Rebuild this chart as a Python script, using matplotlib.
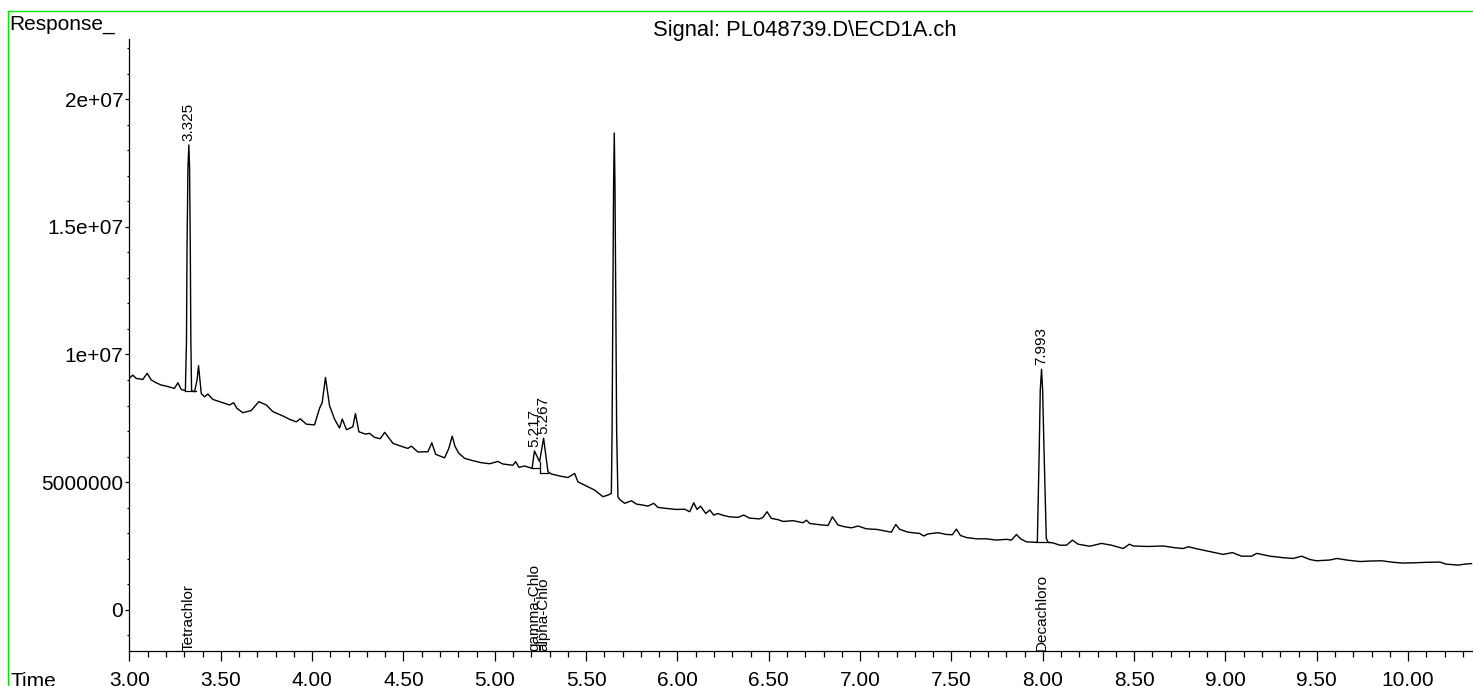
import numpy as np
import matplotlib
matplotlib.use("Agg")
import matplotlib.pyplot as plt
from matplotlib.lines import Line2D

plt.rcParams['font.family'] = ['Liberation Sans', 'DejaVu Sans']

# chromatogram trace: time (min), response (millions)
time_min = [
    3.000, 3.018, 3.037, 3.073, 3.097, 3.119, 3.146, 3.174, 3.201, 3.246,
    3.265, 3.283, 3.305,
    3.306, 3.312, 3.315, 3.320, 3.325, 3.329, 3.333, 3.336, 3.340,
    3.356, 3.370, 3.378, 3.386, 3.393, 3.411, 3.429, 3.456, 3.493, 3.548,
    3.570, 3.588, 3.620, 3.666, 3.708, 3.749, 3.785, 3.840, 3.876, 3.913,
    3.935, 3.968, 4.013, 4.041, 4.055, 4.073, 4.095, 4.123, 4.150, 4.165,
    4.188, 4.223, 4.237, 4.256, 4.292, 4.314, 4.342, 4.373, 4.397, 4.442,
    4.497, 4.524, 4.543, 4.579, 4.634, 4.655, 4.676, 4.725, 4.747, 4.767,
    4.782, 4.803, 4.835, 4.880, 4.926, 4.972, 5.017, 5.044, 5.099, 5.114,
    5.132, 5.163, 5.204, 5.217, 5.245, 5.267, 5.291, 5.309, 5.355, 5.400,
    5.437, 5.455, 5.501, 5.546, 5.592, 5.619, 5.638,
    5.642, 5.646, 5.650, 5.654, 5.658, 5.662, 5.667, 5.674,
    5.683, 5.711, 5.748, 5.775, 5.811, 5.838, 5.870, 5.893, 5.939, 5.994,
    6.039, 6.067, 6.089, 6.107, 6.126, 6.155, 6.177, 6.198, 6.222, 6.249,
    6.286, 6.331, 6.363, 6.395, 6.450, 6.468, 6.490, 6.514, 6.550, 6.578,
    6.633, 6.687, 6.706, 6.724, 6.769, 6.824, 6.848, 6.879, 6.916, 6.952,
    6.989, 7.034, 7.089, 7.135, 7.171, 7.195, 7.217, 7.262, 7.326, 7.348,
    7.372, 7.426, 7.472, 7.505, 7.527, 7.549, 7.582, 7.637, 7.692, 7.746,
    7.801, 7.828, 7.856, 7.878, 7.911, 7.956, 7.965,
    7.970, 7.980, 7.986, 7.993, 7.999, 8.007, 8.019, 8.029,
    8.056, 8.093, 8.130, 8.162, 8.193, 8.257, 8.321, 8.376, 8.440, 8.474,
    8.495, 8.575, 8.659, 8.723, 8.768, 8.796, 8.849, 8.915, 8.987, 9.038,
    9.088, 9.143, 9.171, 9.244, 9.316, 9.371, 9.417, 9.462, 9.499, 9.572,
    9.609, 9.663, 9.736, 9.791, 9.855, 9.918, 9.973, 10.028, 10.101, 10.174,
    10.207, 10.272, 10.313, 10.347,
]
response_M = [
    9.07, 9.19, 9.06, 9.02, 9.26, 9.00, 8.89, 8.80, 8.76, 8.67,
    8.89, 8.63, 8.58,
    8.60, 10.5, 14.1, 17.3, 18.2, 17.3, 14.1, 10.5, 8.58,
    8.54, 9.00, 9.56, 9.00, 8.47, 8.34, 8.45, 8.24, 8.15, 8.02,
    8.11, 7.89, 7.72, 7.80, 8.15, 8.02, 7.76, 7.59, 7.46, 7.36,
    7.48, 7.27, 7.24, 7.90, 8.11, 9.10, 8.00, 7.46, 7.12, 7.47,
    7.05, 7.17, 7.68, 6.97, 6.88, 6.91, 6.75, 6.70, 6.95, 6.52,
    6.38, 6.32, 6.41, 6.18, 6.19, 6.54, 6.09, 5.95, 6.30, 6.80,
    6.40, 6.13, 5.93, 5.84, 5.76, 5.72, 5.81, 5.71, 5.66, 5.80,
    5.58, 5.63, 5.54, 6.22, 5.80, 6.72, 5.41, 5.32, 5.24, 5.18,
    5.34, 5.01, 4.85, 4.69, 4.43, 4.49, 4.56,
    7.00, 12.0, 16.5, 18.67, 16.5, 12.0, 7.00, 4.43,
    4.32, 4.17, 4.27, 4.14, 4.10, 4.06, 4.17, 4.01, 3.97, 3.93,
    3.94, 3.84, 4.19, 3.93, 4.06, 3.77, 3.91, 3.71, 3.77, 3.70,
    3.64, 3.62, 3.71, 3.59, 3.56, 3.62, 3.84, 3.58, 3.53, 3.46,
    3.49, 3.41, 3.51, 3.38, 3.34, 3.30, 3.64, 3.32, 3.25, 3.21,
    3.28, 3.17, 3.15, 3.09, 3.04, 3.34, 3.15, 3.04, 2.99, 2.89,
    2.97, 3.02, 2.95, 2.94, 3.16, 2.91, 2.83, 2.78, 2.78, 2.73,
    2.76, 2.73, 2.95, 2.78, 2.66, 2.64, 2.64,
    2.66, 6.13, 8.60, 9.42, 8.60, 6.13, 2.80, 2.64,
    2.62, 2.53, 2.53, 2.73, 2.57, 2.49, 2.60, 2.53, 2.40, 2.57,
    2.50, 2.48, 2.50, 2.43, 2.40, 2.47, 2.38, 2.28, 2.17, 2.24,
    2.10, 2.10, 2.21, 2.10, 2.04, 2.01, 2.10, 1.97, 1.92, 1.95,
    2.01, 1.95, 1.89, 1.91, 1.92, 1.86, 1.83, 1.84, 1.86, 1.87,
    1.79, 1.75, 1.79, 1.81,
]

# integrated peaks: retention time, apex (millions), baseline start/end, baseline level
peak_rt = [3.325, 5.217, 5.267, 7.993]
peak_top_M = [18.2, 6.22, 6.72, 9.42]
base_start = [3.305, 5.206, 5.245, 7.962]
base_end = [3.365, 5.245, 5.291, 8.035]
base_level_M = [8.58, 5.54, 5.37, 2.65]
drop_rt = [5.245]
drop_top_M = [5.80]
drop_bottom_M = [5.37]

compound_names = ['Tetrachlor', 'gamma-Chlo', 'alpha-Chlo', 'Decachloro']
compound_rt = [3.325, 5.217, 5.267, 7.993]

xtick_values = [3.0, 3.5, 4.0, 4.5, 5.0, 5.5, 6.0, 6.5, 7.0, 7.5, 8.0, 8.5, 9.0, 9.5, 10.0]
xtick_labels = ['3.00', '3.50', '4.00', '4.50', '5.00', '5.50', '6.00', '6.50',
                '7.00', '7.50', '8.00', '8.50', '9.00', '9.50', '10.00']
ytick_values = [0, 5e6, 1e7, 1.5e7, 2e7]
ytick_labels = ['0', '5000000', '1e+07', '1.5e+07', '2e+07']

y_low = -1.6e6
y_high = 22.35e6

fig = plt.figure(figsize=(14.73, 6.86), dpi=100)
ax = fig.add_axes([0.0879, 0.0515, 1 - 0.0879, 0.9431 - 0.0515])

resp = np.array(response_M) * 1e6
ax.plot(time_min, resp, color='black', lw=1.0)

for i in range(len(peak_rt)):
    ax.plot([base_start[i], base_end[i]], [base_level_M[i] * 1e6] * 2, color='black', lw=0.9)
for i in range(len(drop_rt)):
    ax.plot([drop_rt[i]] * 2, [drop_bottom_M[i] * 1e6, drop_top_M[i] * 1e6], color='black', lw=0.9)

for rt, top in zip(peak_rt, peak_top_M):
    ax.annotate('%.3f' % rt, xy=(rt, top * 1e6), xytext=(0, 3), textcoords='offset points',
                rotation=90, ha='center', va='bottom', fontsize=11)

for name, rt in zip(compound_names, compound_rt):
    ax.text(rt, y_low, name, rotation=90, ha='center', va='bottom', fontsize=11)

ax.set_xlim(3.0, 10.355)
ax.set_ylim(y_low, y_high)
ax.set_xticks(xtick_values, labels=xtick_labels)
ax.set_yticks(ytick_values, labels=ytick_labels)
ax.set_xticks(np.arange(3.0, 10.36, 0.1), minor=True)
ax.set_yticks(np.arange(-1e6, 22.1e6, 1e6), minor=True)
ax.tick_params(axis='x', which='major', length=7.2, width=0.9, pad=7.5, labelsize=15)
ax.tick_params(axis='x', which='minor', length=4.3, width=0.9)
ax.tick_params(axis='y', which='major', length=3, width=0.9, pad=1.5, labelsize=15)
ax.tick_params(axis='y', which='minor', length=1.5, width=0.9)

for s in ['top', 'right']:
    ax.spines[s].set_visible(False)
for s in ['left', 'bottom']:
    ax.spines[s].set_linewidth(0.9)

# green frame on the left and top
fig.add_artist(Line2D([0.0057, 0.0057], [0, 0.9835], color='#00e600', lw=1.0))
fig.add_artist(Line2D([0.0057, 1.0], [0.9835, 0.9835], color='#00e600', lw=1.0))

fig.text(0.0063, 0.978, 'Response_', ha='left', va='top', fontsize=15)
fig.text(0.546, 0.956, r'Signal: PL048739.D\ECD1A.ch', ha='center', va='center', fontsize=15.8)
fig.text(0.0068, 0.0204, 'Time', ha='left', va='top', fontsize=15)

fig.savefig('out.png', dpi=100)
